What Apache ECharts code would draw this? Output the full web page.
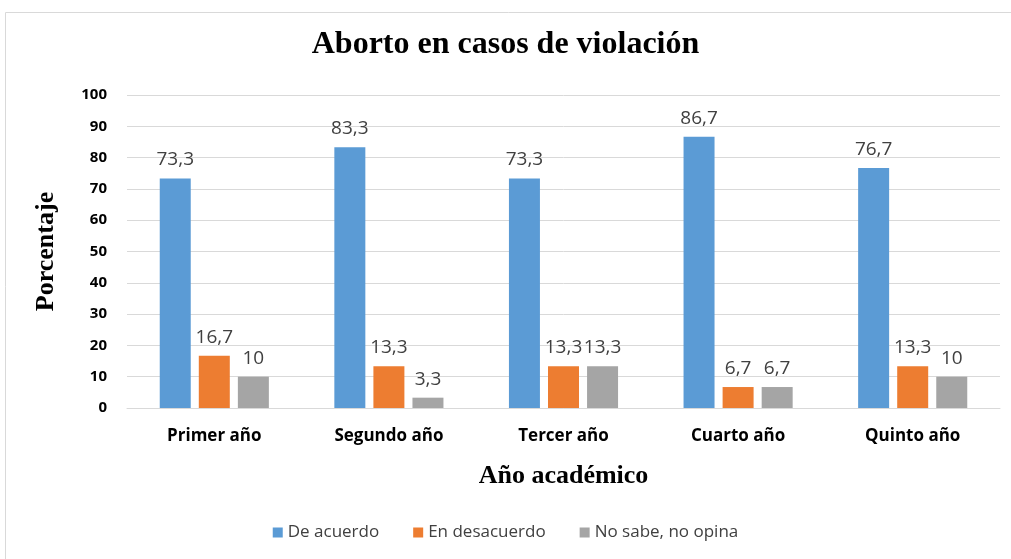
<!DOCTYPE html>
<html><head><meta charset="utf-8">
<script src="https://cdn.jsdelivr.net/npm/echarts@6/dist/echarts.min.js"></script>
<style>html,body{margin:0;padding:0;background:#fff}#c{width:1011px;height:559px}</style>
</head><body><div id="c"></div>
<script>
const categories = ['Primer año','Segundo año','Tercer año','Cuarto año','Quinto año'];
const deAcuerdo = [73.3, 83.3, 73.3, 86.7, 76.7];
const enDesacuerdo = [16.7, 13.3, 13.3, 6.7, 13.3];
const noSabe = [10, 3.3, 13.3, 6.7, 10];
const seriesNames = ['De acuerdo','En desacuerdo','No sabe, no opina'];
const colors = ['#5B9BD5','#ED7D31','#A5A5A5'];

const chart = echarts.init(document.getElementById('c'));
const lbl = {show:true, position:'top', distance:9, color:'#404040', fontSize:19, fontFamily:'Open Sans, sans-serif',
  formatter: p => String(p.value).replace('.', ',')};
function mk(name, data, i){
  return {name, type:'bar', data, barWidth:31, barGap:'26%', itemStyle:{color:colors[i]}, label:lbl};
}
chart.setOption({
  animation:false,
  graphic:[{type:'rect', shape:{x:5.5,y:12.5,width:1010,height:560}, style:{fill:'none', stroke:'#d9d9d9', lineWidth:1}}],
  title:{text:'Aborto en casos de violación', left:'center', top:24,
    textStyle:{fontFamily:'Liberation Serif, serif', fontWeight:'bold', fontSize:32, color:'#000'}},
  legend:{bottom:13, itemWidth:10, itemHeight:10, itemGap:34, icon:'rect',
    textStyle:{fontSize:17, color:'#404040', fontFamily:'Open Sans, sans-serif'}, data:seriesNames},
  grid:{left:127, right:11, top:95, bottom:151, containLabel:false},
  xAxis:{type:'category', data:categories, name:'Año académico', nameLocation:'middle', nameGap:55,
    nameTextStyle:{fontFamily:'Liberation Serif, serif', fontWeight:'bold', fontSize:26, color:'#000'},
    axisLine:{lineStyle:{color:'#d9d9d9'}}, axisTick:{show:false},
    axisLabel:{margin:20, fontSize:17, fontWeight:'bold', color:'#000', fontFamily:'Open Sans, sans-serif'}},
  yAxis:{type:'value', min:0, max:100, interval:10, name:'Porcentaje', nameLocation:'middle', nameGap:68,
    nameTextStyle:{fontFamily:'Liberation Serif, serif', fontWeight:'bold', fontSize:26, color:'#000'},
    axisLine:{show:false}, axisTick:{show:false},
    splitLine:{lineStyle:{color:'#d9d9d9'}},
    axisLabel:{margin:20, fontSize:15, fontWeight:'bold', color:'#000', fontFamily:'Open Sans, sans-serif'}},
  series:[mk(seriesNames[0], deAcuerdo, 0), mk(seriesNames[1], enDesacuerdo, 1), mk(seriesNames[2], noSabe, 2)]
});
</script></body></html>
